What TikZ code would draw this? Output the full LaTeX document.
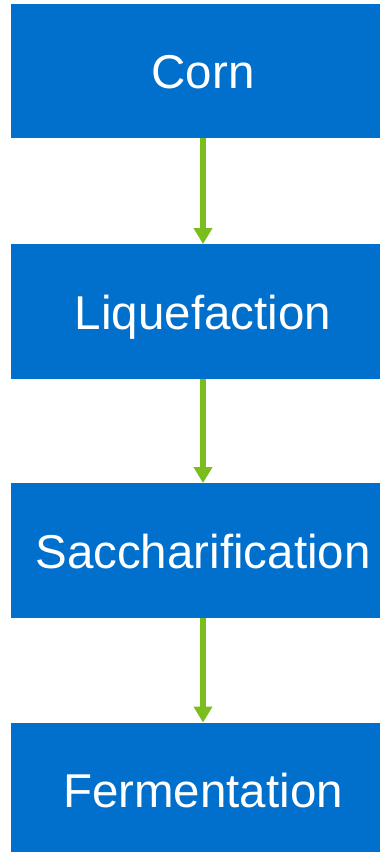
\documentclass[tikz,border=0pt]{standalone}
\usepackage{fontspec}
\setmainfont{Liberation Sans}
\usetikzlibrary{arrows.meta}
\definecolor{stepblue}{RGB}{0,112,204}
\definecolor{flowgreen}{RGB}{122,190,30}
\tikzset{
 stage/.style={fill=stepblue, text=white, minimum width=384pt, minimum height=134.5pt,
  inner sep=0pt, text height=35pt, text depth=0pt, font=\fontsize{47.5}{56}\selectfont},
 flow/.style={flowgreen, line width=6pt, -{Triangle[width=18pt,length=16pt]}}
}
\begin{document}
\begin{tikzpicture}[x=1pt,y=-1pt]
\useasboundingbox (0,0) rectangle (380,852);
\node[stage] (corn) at (203,71) {Corn};
\node[stage] (liq) at (203,311.5) {Liquefaction};
\node[stage] (sacch) at (203,550.5) {Saccharification};
\node[stage] (ferm) at (203,790) {Fermentation};

\draw[flow] (corn) -- (liq);
\draw[flow] (liq) -- (sacch);
\draw[flow] (sacch) -- (ferm);
\end{tikzpicture}
\end{document}
